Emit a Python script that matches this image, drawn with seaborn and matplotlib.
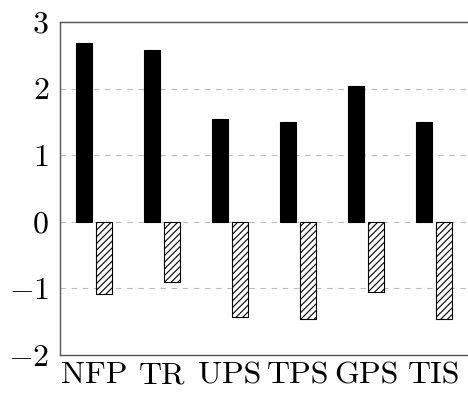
import matplotlib
matplotlib.use("Agg")
import matplotlib.pyplot as plt
import seaborn as sns
import pandas as pd

categories = ["NFP", "TR", "UPS", "TPS", "GPS", "TIS"]
positive_values = [2.68, 2.58, 1.54, 1.505, 2.045, 1.50]
negative_values = [-1.09, -0.905, -1.43, -1.46, -1.05, -1.46]
yticks = [-2, -1, 0, 1, 2, 3]

sns.set_theme(style="white")
plt.rcParams["font.family"] = ["serif"]
plt.rcParams["font.serif"] = ["cmr10", "DejaVu Serif"]
plt.rcParams["mathtext.fontset"] = "cm"
plt.rcParams["axes.formatter.use_mathtext"] = True
plt.rcParams["axes.unicode_minus"] = True
plt.rcParams["hatch.linewidth"] = 0.8

df = pd.DataFrame({
    "category": categories * 2,
    "value": positive_values + negative_values,
    "series": ["pos"] * len(categories) + ["neg"] * len(categories),
})

fig = plt.figure(figsize=(4.68, 3.94), dpi=100)
ax = fig.add_axes([60 / 468, 39 / 394, 1 - 60 / 468, (355 - 22) / 394])

sns.barplot(data=df, x="category", y="value", hue="series",
            palette={"pos": "black", "neg": "white"}, width=0.59, gap=0.2,
            edgecolor="black", linewidth=0.8, legend=False, ax=ax, errorbar=None)
for bar in ax.containers[1]:
    bar.set_hatch("/////")
    bar.set_edgecolor("black")

ax.set_xlim(-0.5, 5.5)
ax.set_ylim(-2, 3)
ax.set_yticks(yticks)
ax.set_yticklabels([f"${v}$" for v in yticks])
ax.set_xlabel("")
ax.set_ylabel("")
for y in [-1, 0, 1, 2]:
    ax.axhline(y, color="#bbbbbb", lw=0.8, dashes=(5, 5), zorder=0)
ax.set_axisbelow(True)
ax.tick_params(axis="both", length=0, labelsize=23, colors="black")
ax.tick_params(axis="y", pad=8)
ax.tick_params(axis="x", pad=5)
for side in ["top", "left", "bottom"]:
    ax.spines[side].set_color("#555555")
    ax.spines[side].set_linewidth(1.0)
ax.spines["right"].set_visible(False)

fig.savefig("out.png", dpi=100)
